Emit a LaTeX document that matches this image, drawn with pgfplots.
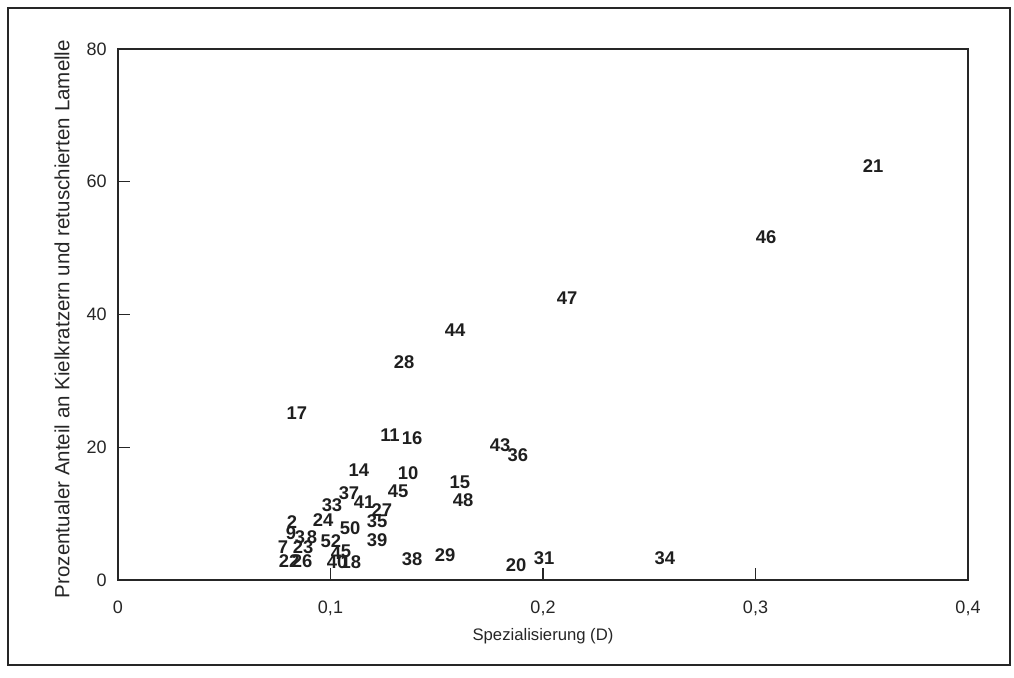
\documentclass[border=0pt]{standalone}
\usepackage{fontspec}
\setmainfont{Liberation Sans}
\usepackage{pgfplots}
\pgfplotsset{compat=1.18}
\usepackage{pgfplotstable}

% Sites: specialisation index D and share of keeled scrapers / retouched bladelets (%)
\pgfplotstableread{
x      y     lab
0.3553 62.4  21
0.3050 51.7  46
0.2113 42.5  47
0.1586 37.7  44
0.1346 32.8  28
0.0842 25.2  17
0.1280 21.8  11
0.1384 21.4  16
0.1798 20.3  43
0.1882 18.8  36
0.1134 16.6  14
0.1365 16.1  10
0.1609 14.8  15
0.1318 13.3  45
0.1624 12.1  48
0.1087 13.1  37
0.1158 11.8  41
0.1242 10.5  27
0.1007 11.3  33
0.0965  9.0  24
0.1219  8.9  35
0.1092  7.8  50
0.1219  6.0  39
0.0819  8.7  2
0.0814  7.1  9
0.0856  6.5  3
0.0913  6.5  8
0.0776  5.0  7
0.0871  5.0  23
0.0805  2.9  22
0.0866  2.9  26
0.1002  5.9  52
0.1073  4.4  5
0.1026  4.1  4
0.1031  2.7  40
0.1096  2.7  18
0.1384  3.2  38
0.1539  3.8  29
0.1873  2.3  20
0.2005  3.3  31
0.2574  3.3  34
}\sites

\begin{document}
\begin{tikzpicture}
% page and outer frame
\fill[white] (0,0) rectangle (760.5pt,508.5pt);
\draw[line width=1.1pt, black!85] (6pt,9.75pt) rectangle (757.5pt,502.5pt);
\begin{axis}[
  at={(88.5pt,73.5pt)}, anchor=south west,
  scale only axis, width=637.5pt, height=398.25pt,
  xmin=0, xmax=0.4, ymin=0, ymax=80,
  xtick={0,0.1,0.2,0.3,0.4},
  xticklabels={0,{0,1},{0,2},{0,3},{0,4}},
  ytick={0,20,40,60,80},
  tick align=inside, major tick length=9pt,
  xtick pos=bottom, ytick pos=left,
  axis line style={line width=1.1pt, black!85},
  tick style={line width=0.9pt, black!85},
  /pgf/number format/assume math mode=true,
  ticklabel style={font=\fontsize{13.5}{15}\selectfont, black!85},
  xticklabel style={yshift=-12pt},
  yticklabel style={xshift=-5pt},
  xlabel={Spezialisierung (D)},
  ylabel={Prozentualer Anteil an Kielkratzern und retuschierten Lamelle},
  every axis x label/.style={at={(axis description cs:0.5,0)}, anchor=center,
    yshift=-42pt, font=\fontsize{12.5}{15}\selectfont, text=black!85},
  every axis y label/.style={at={(axis description cs:0,0.4915)}, anchor=center,
    rotate=90, yshift=42pt, font=\fontsize{15.4}{17}\selectfont, text=black!85},
  clip=false,
]
\addplot[only marks, mark=none,
  nodes near coords, point meta=explicit symbolic,
  nodes near coords style={anchor=center, inner sep=0pt,
    font=\fontsize{13.8}{14}\selectfont\bfseries, text=black!88}]
  table[x=x, y=y, meta=lab] {\sites};
\end{axis}
\end{tikzpicture}
\end{document}
